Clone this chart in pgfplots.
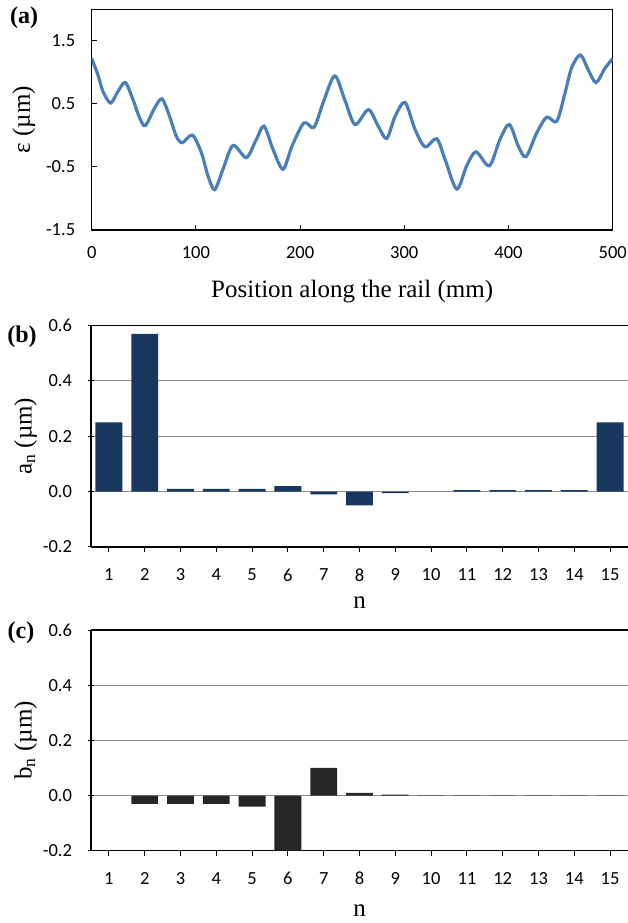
\documentclass[border=0pt]{standalone}
\usepackage{fontspec}
\setmainfont{Liberation Serif}
\newfontfamily\calibri{Carlito}
\usepackage{pgfplots}
\pgfplotsset{compat=1.18}
\definecolor{lineblue}{HTML}{4A7EBB}
\definecolor{navy}{HTML}{17375E}
\definecolor{darkbar}{HTML}{262626}
\definecolor{gridgray}{HTML}{8C8C8C}
\pgfplotsset{
  common/.style={
    scale only axis,
    anchor=south west,
    tick align=inside,
    tick pos=left,
    /pgf/number format/assume math mode=true,
    tick label style={font=\calibri\fontsize{18.5}{20}\selectfont},
    label style={font=\fontsize{25}{28}\selectfont},
    yticklabel style={xshift=-13pt},
    xticklabel style={yshift=-13pt},
    tick style={black, line width=1pt},
    major tick length=5pt,
    yticklabel={\pgfmathprintnumber[fixed,fixed zerofill,precision=1]{\tick}},
  },
  barax/.style={
    common,
    axis lines=left,
    axis line style={-, line width=1.5pt, black},
    width=537pt, height=221.5pt,
    xmin=0.5, xmax=15.5,
    ymin=-0.2, ymax=0.6,
    xtick={1,...,15},
    ytick={-0.2,0,0.2,0.4,0.6},
    ymajorgrids,
    grid style={gridgray, line width=1.2pt},
    extra y ticks={0.6},
    extra y tick labels={},
    extra y tick style={ymajorgrids=true, grid style={black, line width=1.5pt}, major tick length=0pt},
    xticklabel={\pgfmathprintnumber[fixed,precision=0]{\tick}},
    xlabel={n},
    ylabel style={at={(axis description cs:-0.122,0.5)}, anchor=center},
    ybar, bar width=0.75,
  },
}
\begin{document}
\begin{tikzpicture}
\useasboundingbox (0,0) rectangle (628pt,923pt);
% (a)
\begin{axis}[common,
  at={(91.7pt,693pt)}, width=521pt, height=220.5pt,
  xmin=0, xmax=500, ymin=-1.5, ymax=2,
  xtick={0,100,200,300,400,500},
  ytick={-1.5,-0.5,0.5,1.5},
  xticklabel={\pgfmathprintnumber[fixed,precision=0]{\tick}},
  axis line style={line width=1.5pt, black},
  xlabel={Position along the rail (mm)},
  xlabel style={at={(axis description cs:0.5,0)}, anchor=base, yshift=-68pt},
  ylabel={ε (µm)},
  ylabel style={at={(axis description cs:-0.130,0.5)}, anchor=center},
]
\addplot[lineblue, line width=3.2pt, smooth, tension=0.5] coordinates {
(0,1.22) (6.0,0.96) (10.8,0.70) (18.2,0.516) (25.2,0.70) (32.3,0.84)
(39.6,0.57) (46.0,0.28) (51.5,0.158) (60.4,0.437) (67.5,0.58) (74.8,0.30)
(81.2,-0.01) (87.0,-0.115) (96.6,0.005) (105.2,-0.27) (111.6,-0.64) (118.0,-0.86)
(126,-0.536) (135.6,-0.158) (148.4,-0.35) (158,-0.063) (165.4,0.147) (174,-0.22)
(183.6,-0.536) (192.2,-0.17) (203.7,0.2) (213.3,0.13) (222,0.516) (233.2,0.946)
(242.8,0.57) (252.7,0.174) (265.5,0.41) (275,0.147) (283.1,-0.047) (291.1,0.30)
(300.7,0.525) (310.3,0.095) (319.9,-0.18) (331.1,-0.052) (339.1,-0.38) (350.3,-0.85)
(359.9,-0.48) (368.8,-0.26) (381.6,-0.48) (391.8,-0.063) (400.8,0.174) (409.4,-0.17)
(416.8,-0.336) (427.1,0.043) (436.7,0.29) (446.3,0.226) (454.3,0.68) (460.7,1.08)
(469.0,1.278) (476.6,1.04) (484,0.84) (492.6,1.068) (500,1.22)
};
\end{axis}
% (b)
\begin{axis}[barax,
  at={(91pt,376pt)},
  xlabel style={at={(axis description cs:0.5,0)}, anchor=base, yshift=-62pt},
  ylabel={a\textsubscript{n} (µm)},
]
\addplot[fill=navy, draw=none] coordinates {
(1,0.25) (2,0.57) (3,0.01) (4,0.01) (5,0.01) (6,0.02) (7,-0.01) (8,-0.05)
(9,-0.005) (10,0) (11,0.005) (12,0.005) (13,0.005) (14,0.005) (15,0.25)
};
\end{axis}
% (c)
\begin{axis}[barax,
  at={(91pt,72.3pt)}, height=220.7pt,
  xlabel style={at={(axis description cs:0.5,0)}, anchor=base, yshift=-66pt},
  ylabel={b\textsubscript{n} (µm)},
]
\addplot[fill=darkbar, draw=none] coordinates {
(1,0) (2,-0.03) (3,-0.03) (4,-0.03) (5,-0.04) (6,-0.2) (7,0.1) (8,0.01)
(9,0.003) (10,0.001) (11,0.001) (12,0.001) (13,0.001) (14,0.001) (15,0.001)
};
\end{axis}
\node[font=\bfseries\fontsize{24}{26}\selectfont] at (24pt,905pt) {(a)};
\node[font=\bfseries\fontsize{24}{26}\selectfont] at (22pt,586pt) {(b)};
\node[font=\bfseries\fontsize{24}{26}\selectfont] at (21pt,290pt) {(c)};
\end{tikzpicture}
\end{document}
